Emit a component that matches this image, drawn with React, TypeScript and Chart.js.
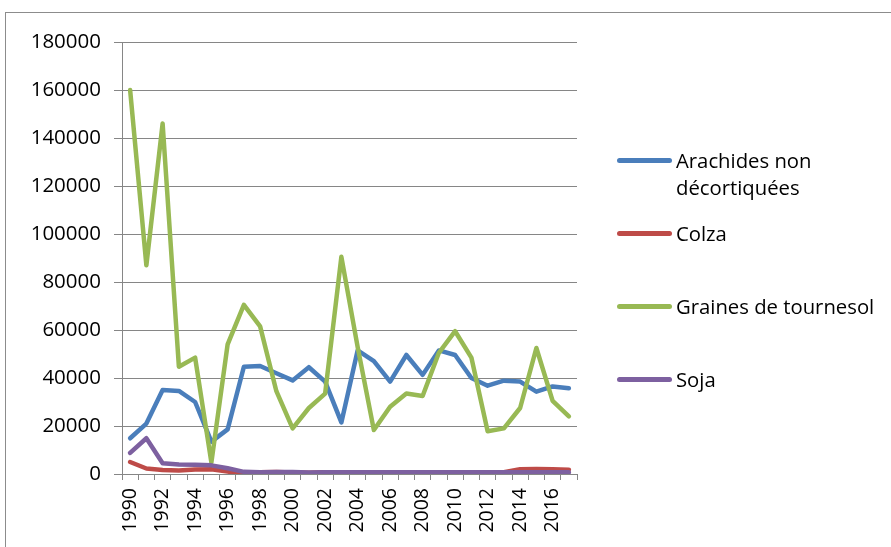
import React, { useEffect, useRef } from "react";
import { Chart, registerables } from "chart.js";

Chart.register(...registerables);

const years = [
  "1990", "1991", "1992", "1993", "1994", "1995", "1996", "1997", "1998", "1999",
  "2000", "2001", "2002", "2003", "2004", "2005", "2006", "2007", "2008", "2009",
  "2010", "2011", "2012", "2013", "2014", "2015", "2016", "2017",
];

const arachides = [
  14900, 21000, 35000, 34600, 30000, 13500, 18600, 44700, 45000, 42000,
  39000, 44500, 38500, 21500, 51500, 47000, 38500, 49600, 41300, 51500,
  49600, 40000, 36800, 38900, 38500, 34300, 36500, 35700,
];

const colza = [
  5000, 2300, 1700, 1500, 1900, 2000, 1000, 200, 700, 800,
  600, 500, 700, 700, 700, 700, 700, 700, 700, 700,
  700, 700, 700, 700, 2000, 2100, 2000, 1800,
];

const tournesol = [
  160000, 87000, 146000, 44700, 48500, 4800, 54000, 70500, 61500, 34500,
  19000, 27500, 33500, 90500, 53000, 18300, 28000, 33500, 32500, 50500,
  59500, 48500, 17800, 19000, 27500, 52500, 30500, 24000,
];

const soja = [
  8800, 14900, 4500, 4000, 3900, 3600, 2400, 900, 700, 800,
  800, 600, 700, 700, 700, 700, 700, 700, 700, 700,
  700, 700, 700, 700, 700, 700, 700, 700,
];

const seriesNames = ["Arachides non décortiquées", "Colza", "Graines de tournesol", "Soja"];
const seriesColors = ["#4A7EBB", "#BE4B48", "#98B954", "#7D60A0"];

const FONT = "'Open Sans', 'Liberation Sans', sans-serif";

export default function App() {
  const canvasRef = useRef<HTMLCanvasElement | null>(null);

  useEffect(() => {
    const canvas = canvasRef.current;
    if (!canvas) return;
    const values = [arachides, colza, tournesol, soja];
    const chart = new Chart(canvas, {
      type: "line",
      data: {
        labels: years,
        datasets: values.map((d, i) => ({
          label: seriesNames[i],
          data: d,
          borderColor: seriesColors[i],
          backgroundColor: seriesColors[i],
          borderWidth: 4.5,
          pointRadius: 0,
          pointHoverRadius: 0,
          tension: 0,
          borderJoinStyle: "round" as const,
          borderCapStyle: "round" as const,
          fill: false,
          order: 4 - i,
        })),
      },
      options: {
        animation: false,
        responsive: false,
        maintainAspectRatio: false,
        layout: { padding: { left: 0, right: 314, top: 42, bottom: 0 } },
        plugins: {
          legend: { display: false },
          tooltip: { enabled: false },
        },
        scales: {
          x: {
            type: "category",
            offset: true,
            afterFit: (s: any) => {
              s.height = 73;
            },
            grid: {
              offset: true,
              drawOnChartArea: false,
              drawTicks: true,
              tickLength: 6,
              color: "#868686",
              lineWidth: 1,
            },
            border: { color: "#868686", width: 1 },
            ticks: {
              autoSkip: false,
              minRotation: 90,
              maxRotation: 90,
              padding: 8,
              color: "#000",
              font: { family: FONT, size: 19.5 },
              callback: (_v: any, idx: number) => (idx % 2 === 0 ? years[idx] : ""),
            },
          },
          y: {
            min: 0,
            max: 180000,
            afterFit: (s: any) => {
              s.width = 122;
            },
            grid: {
              color: "#868686",
              lineWidth: 1,
              drawTicks: true,
              tickLength: 8,
            },
            border: { color: "#868686", width: 1 },
            ticks: {
              stepSize: 20000,
              padding: 13,
              color: "#000",
              font: { family: FONT, size: 20.5 },
              callback: (v: any) => String(v),
            },
          },
        },
      },
    });
    return () => chart.destroy();
  }, []);

  const legendItems = [
    { lines: ["Arachides non", "décortiquées"], y: 160 },
    { lines: ["Colza"], y: 233 },
    { lines: ["Graines de tournesol"], y: 306 },
    { lines: ["Soja"], y: 379 },
  ];

  return (
    <div
      style={{
        position: "fixed",
        left: 0,
        top: 0,
        width: 891,
        height: 547,
        background: "#fff",
        overflow: "hidden",
      }}
    >
      <div
        style={{
          position: "absolute",
          left: 5,
          top: 12,
          width: 1000,
          height: 1000,
          border: "1px solid #8c8c8c",
        }}
      />
      <canvas
        ref={canvasRef}
        width={891}
        height={547}
        style={{ position: "absolute", left: 0, top: 0, width: 891, height: 547 }}
      />
      {legendItems.map((it, i) => (
        <div key={i}>
          <div
            style={{
              position: "absolute",
              left: 617,
              top: it.y - 2.5,
              width: 55,
              height: 5,
              borderRadius: 2.5,
              background: seriesColors[i],
            }}
          />
          {it.lines.map((ln, j) => (
            <div
              key={j}
              style={{
                position: "absolute",
                left: 676,
                top: it.y - 14 + j * 27,
                height: 28,
                lineHeight: "28px",
                fontFamily: FONT,
                fontSize: 20.3,
                color: "#000",
                whiteSpace: "nowrap",
              }}
            >
              {ln}
            </div>
          ))}
        </div>
      ))}
    </div>
  );
}
